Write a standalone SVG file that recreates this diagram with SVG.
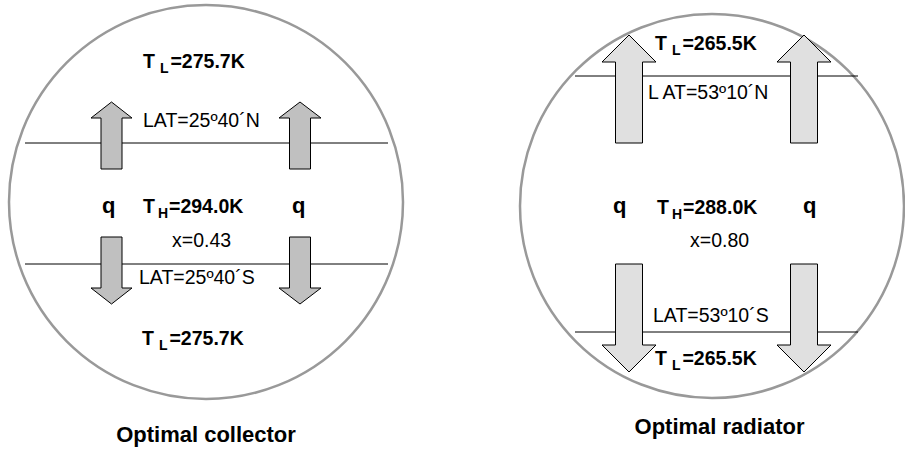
<svg xmlns="http://www.w3.org/2000/svg" width="905" height="455" viewBox="0 0 905 455">
<style>
.circ{fill:none;stroke:#999;stroke-width:2.5}
.lat{stroke:#000;stroke-width:1}
.arrL{fill:#c0c0c0;stroke:#000;stroke-width:1}
.arrR{fill:#e0e0e0;stroke:#000;stroke-width:1}
text{font-family:"Liberation Sans",Arial,sans-serif;fill:#000}
.b{font-weight:bold;font-size:19.5px}
.n{font-size:19.5px}
.q{font-weight:bold;font-size:22px}
.t{font-weight:bold;font-size:22px;text-anchor:middle}
.sub{font-size:14px}
</style>
<rect width="905" height="455" fill="#fff"/>
<g id="collector">
<circle class="circ" cx="206" cy="202" r="197"/>
<line class="lat" x1="25" y1="143" x2="388" y2="143"/>
<line class="lat" x1="25" y1="264" x2="388" y2="264"/>
<g id="collector-arrows">
<polygon class="arrL" points="101,169 101,118 91,118 111.5,102 132,118 122,118 122,169"/>
<polygon class="arrL" points="289.5,169 289.5,118 279,118 300,102 321,118 310.5,118 310.5,169"/>
<polygon class="arrL" points="101,237 101,288 91,288 111.5,304 132,288 122,288 122,237"/>
<polygon class="arrL" points="289.5,237 289.5,288 279,288 300,304 321,288 310.5,288 310.5,237"/>
</g>
<text class="b" x="143" y="68">T<tspan class="sub" dx="5" dy="5">L</tspan><tspan dx="2" dy="-5">=275.7K</tspan></text>
<text class="n" x="143" y="127">LAT=25º40´N</text>
<text class="q" x="102" y="213">q</text>
<text class="b" x="143" y="213">T<tspan class="sub" dx="3" dy="5">H</tspan><tspan dx="1" dy="-5">=294.0K</tspan></text>
<text class="q" x="292" y="213">q</text>
<text class="n" x="172" y="247">x=0.43</text>
<text class="n" x="139" y="284">LAT=25º40´S</text>
<text class="b" x="142" y="345">T<tspan class="sub" dx="5" dy="5">L</tspan><tspan dx="2" dy="-5">=275.7K</tspan></text>
<text class="t" x="206" y="442">Optimal collector</text>
</g>
<g id="radiator">
<circle class="circ" cx="712" cy="206" r="192"/>
<line class="lat" x1="575" y1="76" x2="858" y2="76"/>
<line class="lat" x1="575" y1="332" x2="858" y2="332"/>
<g id="radiator-arrows">
<polygon class="arrR" points="615.5,143 615.5,62 602,62 629,35 656,62 642.5,62 642.5,143"/>
<polygon class="arrR" points="790.5,143 790.5,62 777,62 804,35 831,62 817.5,62 817.5,143"/>
<polygon class="arrR" points="615.5,264 615.5,345 602,345 629,372 656,345 642.5,345 642.5,264"/>
<polygon class="arrR" points="790.5,264 790.5,345 777,345 804,372 831,345 817.5,345 817.5,264"/>
</g>
<text class="b" x="655" y="50">T<tspan class="sub" dx="5" dy="5">L</tspan><tspan dx="2" dy="-5">=265.5K</tspan></text>
<text class="n" x="648" y="99">L AT=53º10´N</text>
<text class="q" x="613" y="213">q</text>
<text class="b" x="657" y="214">T<tspan class="sub" dx="3" dy="5">H</tspan><tspan dx="1" dy="-5">=288.0K</tspan></text>
<text class="q" x="803" y="213">q</text>
<text class="n" x="690" y="247">x=0.80</text>
<text class="n" x="653" y="322">LAT=53º10´S</text>
<text class="b" x="655" y="365">T<tspan class="sub" dx="5" dy="5">L</tspan><tspan dx="2" dy="-5">=265.5K</tspan></text>
<text class="t" x="719.5" y="434">Optimal radiator</text>
</g>
</svg>
